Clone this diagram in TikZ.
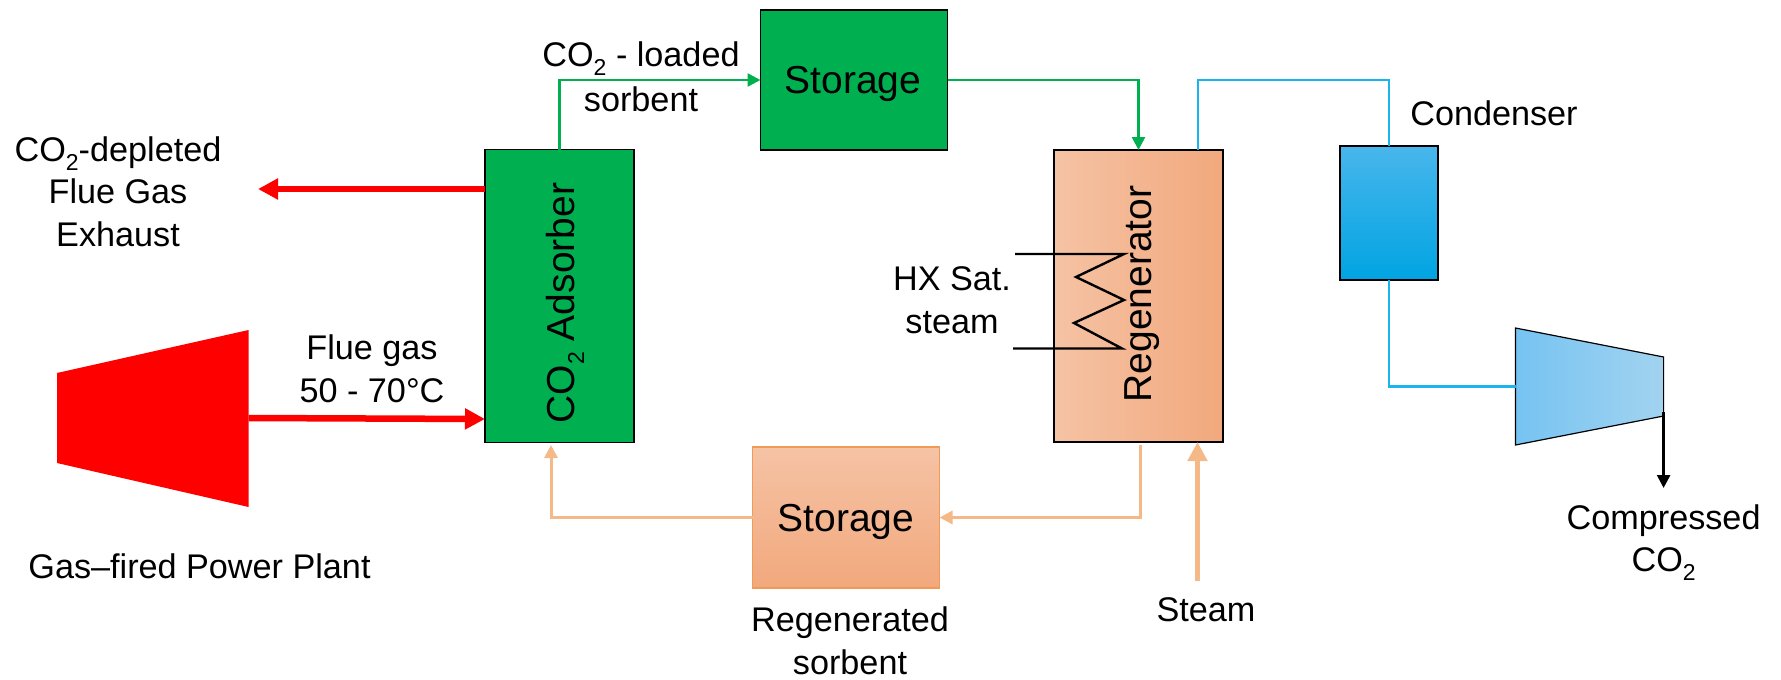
\documentclass[tikz,border=0pt]{standalone}
\usepackage{fontspec}
\setmainfont{Liberation Sans}
\usetikzlibrary{arrows.meta}
\definecolor{sorbgreen}{HTML}{00B050}
\definecolor{plantred}{HTML}{FF0000}
\definecolor{peachline}{HTML}{F4B987}
\definecolor{peachlight}{HTML}{F5C3A5}
\definecolor{peachdark}{HTML}{F2A87C}
\definecolor{peachedge}{HTML}{EF9A55}
\definecolor{coolline}{HTML}{1CB4EE}
\definecolor{cooltop}{HTML}{48B6EC}
\definecolor{coolmid}{HTML}{0FB3F0}
\definecolor{coolbot}{HTML}{00A4E2}
\definecolor{compleft}{HTML}{76C3F2}
\definecolor{compright}{HTML}{A2D3F0}
\def\cotwo{CO\raisebox{-.26em}{\fontsize{23}{23}\selectfont 2}}
\tikzset{
	unitbox/.style={rectangle, inner sep=0pt, outer sep=0pt, draw=black, line width=1.3pt},
	lbl/.style={align=center, inner sep=0pt, font=\fontsize{34.2}{42.5}\selectfont},
	biglbl/.style={inner sep=0pt, font=\fontsize{39}{44}\selectfont},
	thinflow/.style={line width=2.6pt, -{Triangle[length=13pt,width=13pt]}},
	thickflow/.style={line width=6.5pt, -{Triangle[length=20pt,width=20pt]}},
	steamflow/.style={line width=5pt, color=peachline, -{Triangle[length=19pt,width=19pt]}},
	coilline/.style={line width=2.4pt, color=black}
}

\begin{document}
\begin{tikzpicture}[x=1pt, y=-1pt]
			%%%%% START %%%%%
			\useasboundingbox (0, 0) rectangle (1781, 680);
			
			\node[unitbox, fill=sorbgreen, minimum width=149pt, minimum height=293pt] (adsorber) at (559.5, 296) {};
			\node[unitbox, fill=sorbgreen, minimum width=187pt, minimum height=140pt] (storagetop) at (854, 80) {};
			\node[unitbox, left color=peachlight, right color=peachdark, minimum width=169pt, minimum height=292pt] (regen) at (1138.5, 296) {};
			\node[unitbox, draw=peachedge, top color=peachlight, bottom color=peachdark, minimum width=187pt, minimum height=141pt] (storagelow) at (846, 517.5) {};
			\node[unitbox, top color=cooltop, middle color=coolmid, bottom color=coolbot, minimum width=98pt, minimum height=134pt] (condenser) at (1389, 213) {};
			
			\fill[plantred] (57, 373) -- (248.6, 330) -- (248.6, 507) -- (57, 463) -- cycle;
			\draw[line width=1.2pt, left color=compleft, right color=compright] (1515.5, 328) -- (1663.6, 357) -- (1663.6, 416) -- (1515.5, 445) -- cycle;
			
			\coordinate (plantout) at (248.6, 418);
			\coordinate (adsin) at (485, 419);
			\coordinate (adsout) at (485, 189);
			\coordinate (exhaust) at (258, 189);
			\coordinate (compin) at (1515.5, 386.5);
			\coordinate (compout) at (1663.6, 412);
			\coordinate (compend) at (1663.6, 488);
			\coordinate (regenvent) at (1198, 150);
			\coordinate (regendrain) at (1140, 445);
			\coordinate (adsreturn) at (551, 445);
			\coordinate (steamstart) at (1197.5, 581);
			\coordinate (steamend) at (1197.5, 442);
			
			\draw[thickflow, color=plantred] (plantout) -- (adsin);
			\draw[thickflow, color=plantred] (adsout) -- (exhaust);
			
			\draw[thinflow, color=sorbgreen] (adsorber.north) |- (storagetop.west);
			\draw[thinflow, color=sorbgreen] (storagetop.east) -| (regen.north);
			
			\draw[line width=2.6pt, color=coolline] (regenvent) |- (1389, 80) -- (condenser.north);
			\draw[line width=2.6pt, color=coolline] (condenser.south) |- (compin);
			\draw[thinflow, color=black] (compout) -- (compend);
			
			\draw[thinflow, color=peachline, line width=3pt] (regendrain) |- (storagelow.east);
			\draw[thinflow, color=peachline, line width=3pt] (storagelow.west) -| (adsreturn);
			\draw[steamflow] (steamstart) -- (steamend);
			
			\draw[coilline] (1015, 254) -- (1124, 254) -- (1076, 277) -- (1124, 300) -- (1074, 323) -- (1122, 348.5) -- (1013, 348.5);
			
			\node[biglbl, rotate=90] (adsorberlbl) at (565, 303) {\cotwo{} Adsorber};
			\node[biglbl, rotate=90] (regenlbl) at (1142, 294) {Regenerator};
			\node[biglbl] (storagetoplbl) at (853, 84) {Storage};
			\node[biglbl] (storagelowlbl) at (846, 522) {Storage};
			
			\node[lbl] (exhaustlbl) at (118, 191.5) {\cotwo-depleted\\Flue Gas\\Exhaust};
			\node[lbl] (loadedlbl) at (641, 77) {\cotwo{} - loaded\\[2pt]sorbent};
			\node[lbl] (fluelbl) at (372, 369) {Flue gas\\50 - 70°C};
			\node[lbl] (plantlbl) at (199.5, 566) {Gas–fired Power Plant};
			\node[lbl] (regenerated) at (850, 641) {Regenerated\\sorbent};
			\node[lbl] (hxlbl) at (952, 300) {HX Sat.\\steam};
			\node[lbl] (condenserlbl) at (1494, 113) {Condenser};
			\node[lbl] (steamlbl) at (1206, 610) {Steam};
			\node[lbl] (compressedlbl) at (1663.6, 542.5) {Compressed\\\cotwo};
			
			%%%%% END %%%%%
		\end{tikzpicture}
\end{document}
